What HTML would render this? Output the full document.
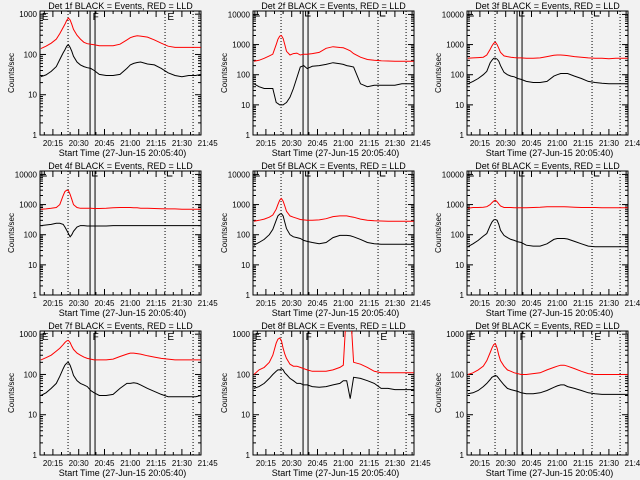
<!DOCTYPE html>
<html><head><meta charset="utf-8"><style>
html,body{margin:0;padding:0;background:#f2f2f2;}
svg{display:block;font-family:"Liberation Sans",sans-serif;}
</style></head><body>
<svg id="chart" width="640" height="480" viewBox="0 0 640 480" xmlns="http://www.w3.org/2000/svg">
<rect width="640" height="480" fill="#f2f2f2"/>
</svg>
<script>
// minutes after 20:00
const times = [8,11,14,17,19,21,22,23,24,25,26,27,29,31,33,35,37,39,42,46,50,54,58,60,62,64,66,70,74,78,82,86,90,94,98,101];
const detNames = ["1f","2f","3f","4f","5f","6f","7f","8f","9f"];
const yTops = [1200,13000,13000,13000,13000,13000,1200,1200,1200];
const red1 = [140,160,190,240,330,470,560,700,800,720,560,420,300,240,200,185,180,175,165,165,165,180,230,260,280,290,285,270,230,190,160,150,150,150,150,150];
const black1 = [28,31,38,50,75,110,130,160,175,150,120,90,65,55,50,47,45,40,32,30,30,32,45,55,60,63,65,58,55,45,35,30,28,30,30,32];
const red2 = [280,300,350,420,480,1000,1500,1900,2000,1600,1000,600,450,500,520,450,480,480,500,550,750,850,800,780,700,620,500,380,320,300,290,285,280,280,280,280];
const black2 = [50,40,35,35,35,12,11,10,10,10,11,12,18,35,80,180,200,160,190,200,220,250,230,220,200,190,180,50,40,45,45,45,45,50,50,50];
const red3 = [350,360,370,380,450,700,900,1100,1200,1000,750,550,420,400,380,370,360,360,350,350,360,400,440,450,450,440,430,400,380,360,350,350,340,350,350,350];
const black3 = [50,60,75,100,130,250,300,350,350,330,280,200,120,100,90,85,75,70,60,55,55,60,90,100,110,110,110,90,75,60,55,52,50,50,50,50];
const red4 = [700,720,750,800,1000,2000,2700,3000,2900,2200,1500,1000,800,750,750,750,750,740,740,750,780,800,800,800,790,780,760,750,740,730,720,720,700,700,700,700];
const black4 = [200,210,220,240,240,220,180,140,110,85,100,130,180,200,200,195,195,195,195,195,200,200,200,200,200,200,200,200,200,200,200,200,200,200,200,200];
const red5 = [280,300,330,380,450,700,1000,1400,1600,1300,900,600,420,380,350,320,310,300,300,310,340,400,420,420,420,400,380,330,300,290,285,280,280,280,280,280];
const black5 = [45,55,70,100,150,300,420,480,500,420,260,160,100,85,80,75,65,60,55,50,55,80,95,95,95,92,85,70,55,50,48,48,48,48,48,48];
const red6 = [750,800,800,820,850,1000,1150,1300,1400,1250,1050,900,800,800,800,790,790,790,790,800,820,850,850,850,850,850,840,820,800,800,800,790,790,790,790,790];
const black6 = [40,50,65,90,110,200,260,310,320,300,220,140,95,80,70,65,58,55,45,42,42,50,70,75,75,75,72,60,50,42,40,40,40,40,40,40];
const red7 = [230,260,300,380,450,550,620,680,700,620,500,420,340,300,270,250,240,230,230,230,240,280,320,340,340,330,320,290,270,250,240,230,230,230,230,230];
const black7 = [30,35,45,60,90,140,170,190,200,170,130,95,70,60,55,50,40,35,30,30,32,45,60,60,62,60,55,45,38,32,28,28,28,28,28,30];
const red8 = [100,130,150,200,300,600,750,800,700,450,320,250,180,160,160,150,140,130,120,120,120,130,150,170,5000,5000,200,180,150,120,110,110,110,110,110,110];
const black8 = [45,50,60,80,100,120,130,130,140,130,110,100,80,70,60,60,55,55,50,48,50,55,60,70,70,25,85,80,70,60,45,45,42,42,42,42];
const red9 = [100,110,130,160,220,350,450,550,580,450,300,220,160,130,120,110,105,100,100,105,110,130,150,160,170,170,160,140,120,105,100,100,100,100,100,100];
const black9 = [33,35,40,50,60,75,85,90,95,90,80,70,55,45,42,40,38,35,33,33,35,40,48,52,55,55,50,45,40,35,33,32,32,32,32,32];
const redSeries = [red1,red2,red3,red4,red5,red6,red7,red8,red9];
const blackSeries = [black1,black2,black3,black4,black5,black6,black7,black8,black9];
const xTickMinutes = [15,30,45,60,75,90,105];
const xTickLabels = ["20:15","20:30","20:45","21:00","21:15","21:30","21:45"];
const dottedMarks = [23.8,80.2,96.5];
const solidMarks = [36.6,39.5];

const NS="http://www.w3.org/2000/svg";
const svg=document.getElementById('chart');
function mk(tag,attrs,parent){const e=document.createElementNS(NS,tag);for(const k in attrs)e.setAttribute(k,attrs[k]);parent.appendChild(e);return e;}
const BX0=40,BX1=201,BY0=11,BY1=135;
const colOff=[0,213,427],rowOff=[0,160,320];
for(let p=0;p<9;p++){
  const ox=colOff[p%3],oy=rowOff[Math.floor(p/3)];
  const g=mk('g',{transform:`translate(${ox},${oy})`},svg);
  
  
  const yTop=yTops[p];
  const lt=Math.log10(yTop);
  const xs=t=>BX0+(t-7.5)*1.72;
  const ys=v=>BY1-(Math.log10(Math.max(v,1)))/lt*(BY1-BY0);
  const clip='clip'+p;
  const cp=mk('clipPath',{id:clip},g);mk('rect',{x:BX0,y:BY0,width:BX1-BX0,height:BY1-BY0},cp);
  const box=mk('rect',{x:BX0,y:BY0,width:BX1-BX0,height:BY1-BY0,fill:'none',stroke:'#000','stroke-width':1},g);
  
  
  const maxDec=Math.floor(lt);
  for(let d=0;d<=maxDec;d++){
    for(let m=1;m<10;m++){
      const v=m*Math.pow(10,d); if(v>yTop)break;
      const y=ys(v); const L=m==1?6:3;
      mk('line',{x1:BX0,x2:BX0+L,y1:y,y2:y,stroke:'#000'},g);
      mk('line',{x1:BX1,x2:BX1-L,y1:y,y2:y,stroke:'#000'},g);
    }
    const lab=mk('text',{x:BX0-3,y:ys(Math.pow(10,d))+3,'font-size':8,'text-anchor':'end'},g);
    lab.textContent=String(Math.pow(10,d));
    
    
  }
  for(let t=10;t<=100;t+=5){const x=xs(t);const L=(t%15==0)?6:3;
    mk('line',{x1:x,x2:x,y1:BY1,y2:BY1-L,stroke:'#000'},g);mk('line',{x1:x,x2:x,y1:BY0,y2:BY0+L,stroke:'#000'},g);}
  xTickMinutes.forEach((t,i)=>{const lab=mk('text',{x:xs(t),y:146,'font-size':8,'text-anchor':'middle'},g);lab.textContent=xTickLabels[i];
    
    });
  dottedMarks.forEach(t=>{mk('line',{x1:xs(t),x2:xs(t),y1:BY0,y2:BY1,stroke:'#000','stroke-dasharray':'1,2'},g);});
  solidMarks.forEach(t=>{mk('line',{x1:xs(t),x2:xs(t),y1:BY0,y2:BY1,stroke:'#000'},g);});
  const labels=[["E",xs(8)],["F",xs(37.5)],["E",xs(81)]];
  if(yTop<2000){labels.forEach(l=>{const tx=mk('text',{x:l[1]+1,y:BY0+9,'font-size':10},g);tx.textContent=l[0];
    
    });}
  else{labels.forEach(l=>{mk('path',{d:`M${l[1]+1} ${BY0} V${BY0+5} H${l[1]+6}`,fill:'none',stroke:'#000'},g);});}
  [[redSeries[p],'#ff0000','red-lld-line'],[blackSeries[p],'#000','black-events-line']].forEach(s=>{
    const d=s[0].map((v,i)=>(i?'L':'M')+xs(times[i]).toFixed(1)+' '+ys(v).toFixed(1)).join(' ');
    const path=mk('path',{d:d,fill:'none',stroke:s[1],'stroke-width':1,'clip-path':`url(#${clip})`},g);
    
    
  });
  const ti=mk('text',{x:(BX0+BX1)/2,y:9,'font-size':9,'text-anchor':'middle'},g);
  ti.textContent=`Det ${detNames[p]} BLACK = Events, RED = LLD`;
  
  
  const xt=mk('text',{x:(BX0+BX1)/2+2,y:156,'font-size':9,'text-anchor':'middle'},g);
  xt.textContent='Start Time (27-Jun-15 20:05:40)';
  
  
  const yt=mk('text',{x:0,y:0,'font-size':8,'text-anchor':'middle',transform:`translate(14,${(BY0+BY1)/2}) rotate(-90)`},g);
  yt.textContent='Counts/sec';
  
  
}
</script>
</body></html>
